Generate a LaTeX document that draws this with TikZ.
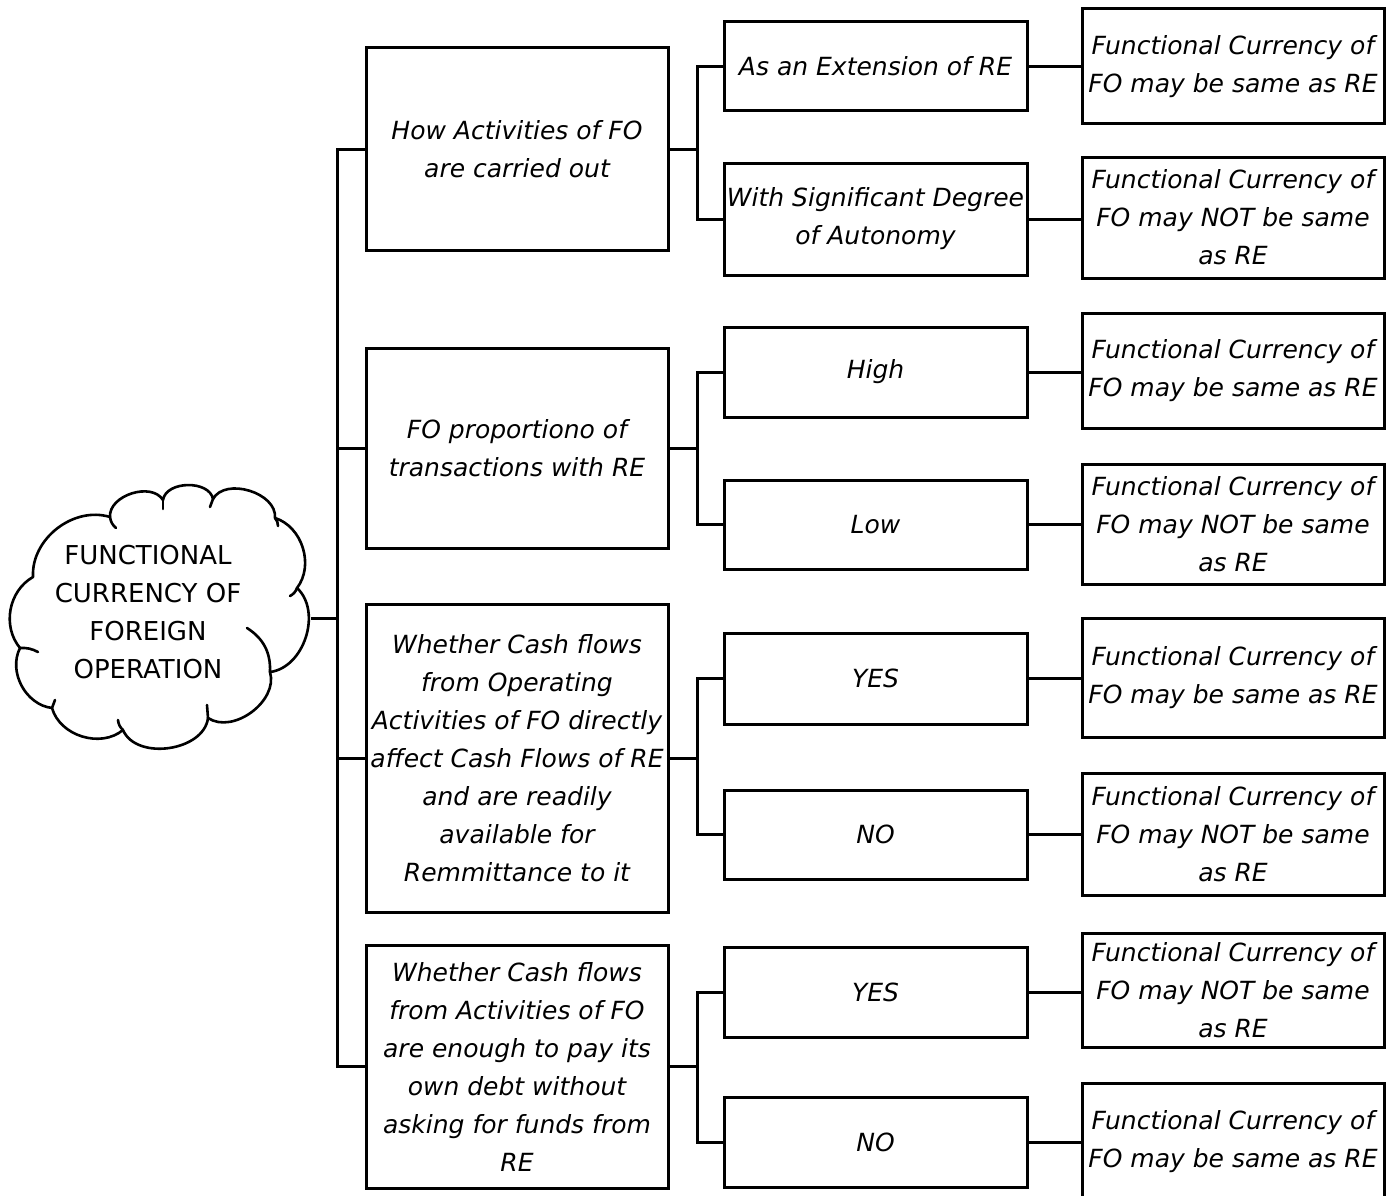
\documentclass[tikz,border=0pt]{standalone}
\usepackage{fontspec}
\setmainfont{DejaVu Sans}
\usetikzlibrary{calc}
\begin{document}
\begin{tikzpicture}[x=1pt,y=-1pt,
  box/.style={draw, line width=3pt, inner sep=0pt, align=center,
    font=\itshape\fontsize{25}{38}\selectfont},
  lvlone/.style={box, minimum width=302},
  lvltwo/.style={box, minimum width=303},
  lvlthree/.style={box, minimum width=302},
  link/.style={line width=3pt},
  puff/.style={line width=2.6pt, line join=round, line cap=round}]
\useasboundingbox (0,0) rectangle (1394,1196);

% ---- cloud ----
\draw[puff]
  (33,577) to[bend left=55] (110,517)
  to[bend left=76] (163,500)
  to[bend left=80] (213,499)
  to[bend left=78] (275,518)
  to[bend left=55] (297,588)
  to[bend left=65] (270,672)
  to[bend left=70] (208,718)
  to[bend left=75] (123,730)
  to[bend left=57] (52,708)
  to[bend left=55] (20,648)
  to[bend left=50] (33,577) -- cycle;
% small inner strokes at the puff joints
\draw[puff] (110,517) to[bend right=20] (116,528);
\draw[puff] (163,500) -- (163,509);
\draw[puff] (213,499) -- (210,507);
\draw[puff] (275,518) to[bend left=20] (278,526);
\draw[puff] (297,588) to[bend left=20] (290,596);
\draw[puff] (247,628) to[bend left=30] (270,672);
\draw[puff] (208,718) -- (207,705);
\draw[puff] (123,730) to[bend left=20] (118,720);
\draw[puff] (52,708) -- (55,700);
\draw[puff] (20,648) to[bend left=15] (38,652);
\node[align=center, font=\fontsize{26}{38}\selectfont] (cloud) at (148,612)
  {FUNCTIONAL\\CURRENCY OF\\FOREIGN\\OPERATION};
\coordinate (cloudR) at (311,618);

% ---- first level ----
\node[lvlone, minimum height=202] (A) at (517,149) {How Activities of FO\\are carried out};
\node[lvlone, minimum height=200] (B) at (517,448) {FO proportiono of\\transactions with RE};
\node[lvlone, minimum height=308] (C) at (517,758) {Whether Cash flows\\from Operating\\Activities of FO directly\\affect Cash Flows of RE\\and are readily\\available for\\Remmittance to it};
\node[lvlone, minimum height=243] (D) at (517,1066.5) {Whether Cash flows\\from Activities of FO\\are enough to pay its\\own debt without\\asking for funds from\\RE};

% ---- second level ----
\node[lvltwo, minimum height=89]  (A1) at (875.5,66.5) {As an Extension of RE};
\node[lvltwo, minimum height=112] (A2) at (875.5,219) {With Significant Degree\\of Autonomy};
\node[lvltwo, minimum height=90]  (B1) at (875.5,372) {High};
\node[lvltwo, minimum height=89]  (B2) at (875.5,524.5) {Low};
\node[lvltwo, minimum height=91]  (C1) at (875.5,678.5) {YES};
\node[lvltwo, minimum height=89]  (C2) at (875.5,834.5) {NO};
\node[lvltwo, minimum height=90]  (D1) at (875.5,992) {YES};
\node[lvltwo, minimum height=90]  (D2) at (875.5,1142) {NO};

% ---- outcomes ----
\node[lvlthree, minimum height=115] (A1r) at (1233,66.5) {Functional Currency of\\FO may be same as RE};
\node[lvlthree, minimum height=121] (A2r) at (1233,217.5) {Functional Currency of\\FO may NOT be same\\as RE};
\node[lvlthree, minimum height=115] (B1r) at (1233,370.5) {Functional Currency of\\FO may be same as RE};
\node[lvlthree, minimum height=120] (B2r) at (1233,524) {Functional Currency of\\FO may NOT be same\\as RE};
\node[lvlthree, minimum height=119] (C1r) at (1233,677.5) {Functional Currency of\\FO may be same as RE};
\node[lvlthree, minimum height=122] (C2r) at (1233,834) {Functional Currency of\\FO may NOT be same\\as RE};
\node[lvlthree, minimum height=114] (D1r) at (1233,990) {Functional Currency of\\FO may NOT be same\\as RE};
\node[lvlthree, minimum height=117] (D2r) at (1233,1141.5) {Functional Currency of\\FO may be same as RE};

% ---- main trunk ----
\coordinate (tr) at (337,618);
\draw[link] (cloudR) -- (tr);
\draw[link] (A.west) -| (tr) |- (D.west);
\draw[link] (B.west) -- (B.west -| tr);
\draw[link] (C.west) -- (C.west -| tr);

% ---- branch trunks ----
\foreach \p in {A,B,C,D}{
  \coordinate (j\p) at ($(\p.east)+(28,0)$);
  \draw[link] (\p.east) -- (j\p);
  \draw[link] (\p1.west) -| (j\p) |- (\p2.west);
  \draw[link] (\p1.east) -- (\p1.east -| \p1r.west);
  \draw[link] (\p2.east) -- (\p2.east -| \p2r.west);
}
\end{tikzpicture}
\end{document}
